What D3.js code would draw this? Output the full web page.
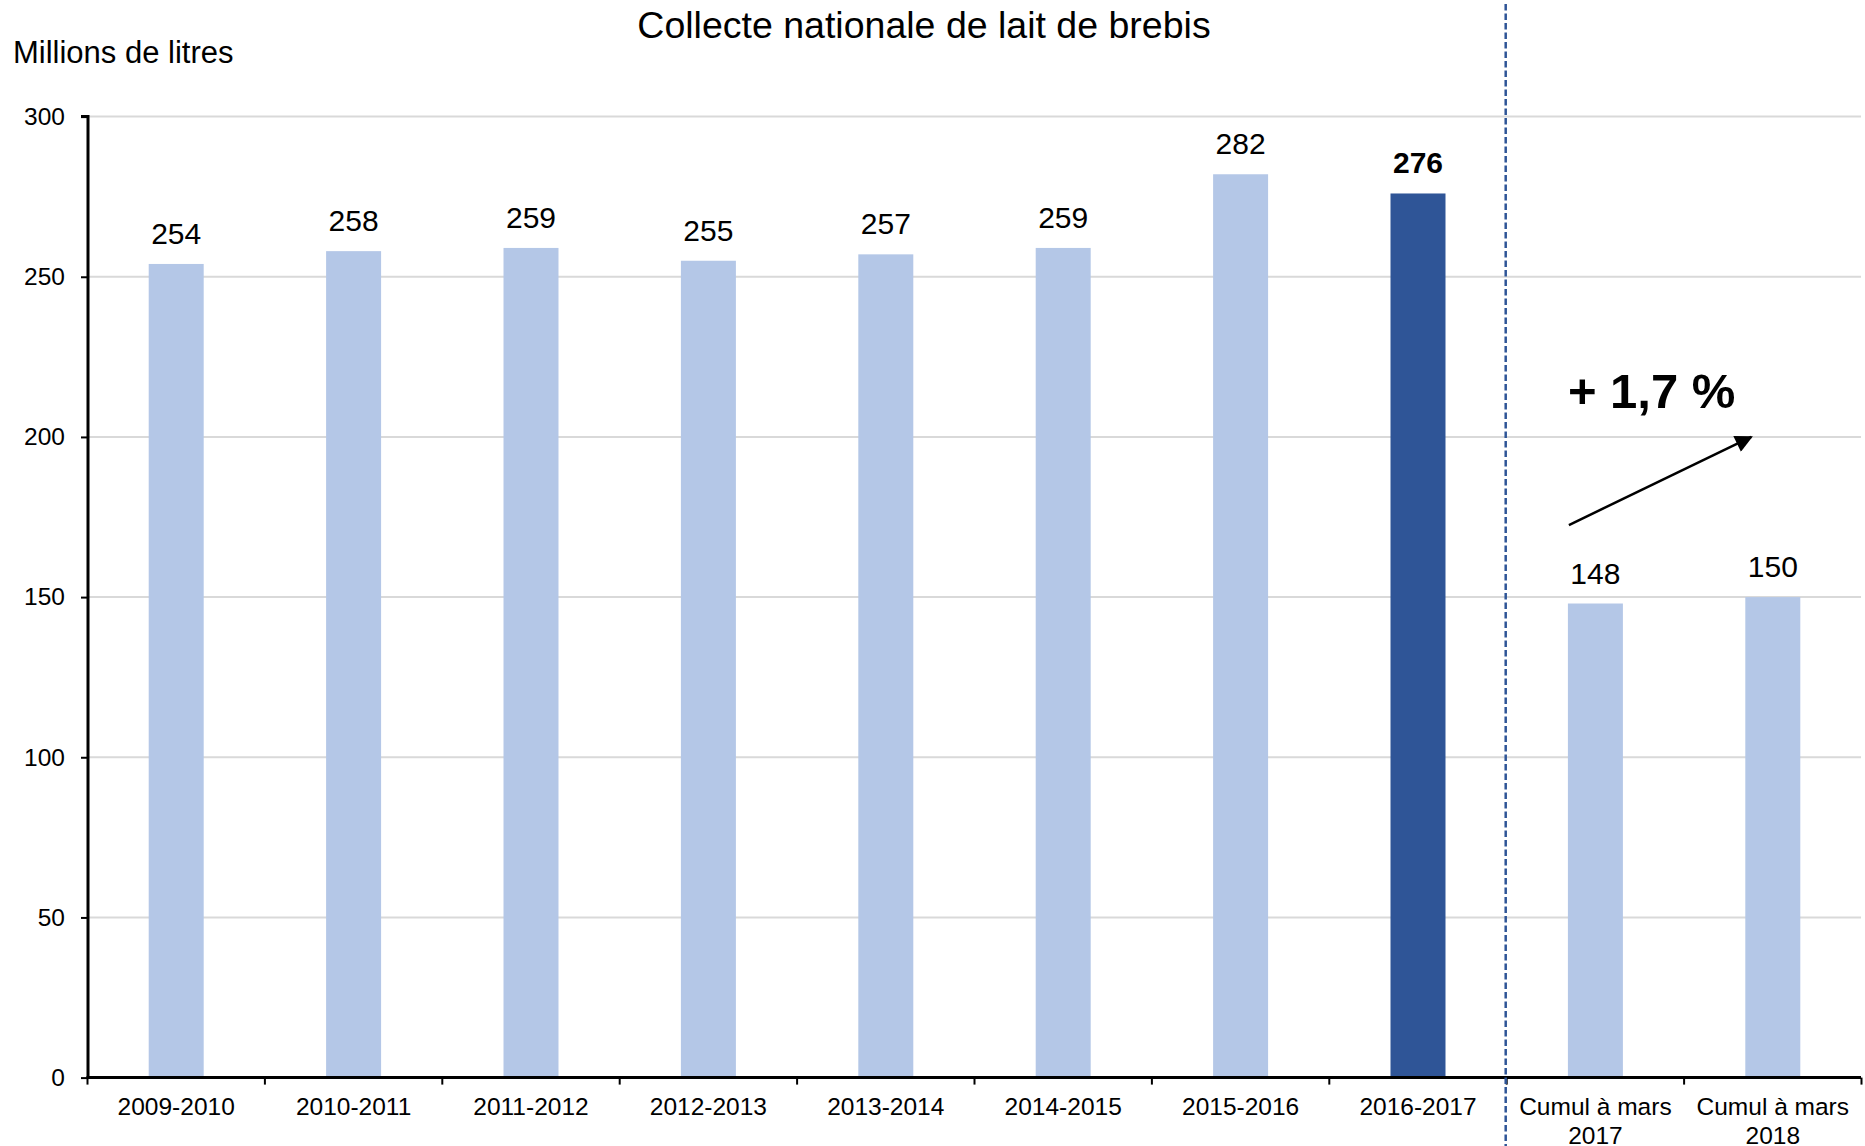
<!DOCTYPE html>
<html>
<head>
<meta charset="utf-8">
<script src="https://cdn.jsdelivr.net/npm/d3@7/dist/d3.min.js"></script>
<style>
  html, body { margin: 0; padding: 0; background: #fff; }
  svg { display: block; font-family: "Liberation Sans", Arial, sans-serif; }
</style>
</head>
<body>
<svg id="chart" width="1865" height="1146"></svg>
<script>
// ---- data ----
const categories = ["2009-2010", "2010-2011", "2011-2012", "2012-2013", "2013-2014",
                    "2014-2015", "2015-2016", "2016-2017", "Cumul à mars 2017", "Cumul à mars 2018"];
const categoryLines = [["2009-2010"], ["2010-2011"], ["2011-2012"], ["2012-2013"], ["2013-2014"],
                       ["2014-2015"], ["2015-2016"], ["2016-2017"], ["Cumul à mars", "2017"], ["Cumul à mars", "2018"]];
const values = [254, 258, 259, 255, 257, 259, 282, 276, 148, 150];
const highlighted = [false, false, false, false, false, false, false, true, false, false];
const yTicks = [0, 50, 100, 150, 200, 250, 300];
const title = "Collecte nationale de lait de brebis";
const yTitle = "Millions de litres";
const changeLabel = "+ 1,7 %";
// arrow annotation in data units (value axis)
const arrowFrom = 172.5, arrowTo = 200;

// ---- layout ----
const W = 1865, H = 1146;
const mLeft = 88, mRight = 1861, mTop = 116.6, mBottom = 1077.6;
const svg = d3.select("#chart");

const x = d3.scaleBand().domain(categories).range([mLeft - 0.5, mRight + 0.5])
  .paddingInner(0.69).paddingOuter(0.345);
const y = d3.scaleLinear().domain([0, 300]).range([mBottom, mTop]);

// gridlines
svg.append("g").selectAll("line").data(yTicks.filter(d => d > 0)).join("line")
  .attr("x1", mLeft).attr("x2", mRight)
  .attr("y1", d => y(d)).attr("y2", d => y(d))
  .attr("stroke", "#d9d9d9").attr("stroke-width", 2);

// bars
svg.append("g").selectAll("rect").data(values).join("rect")
  .attr("x", (d, i) => x(categories[i]))
  .attr("width", x.bandwidth())
  .attr("y", d => y(d))
  .attr("height", d => y(0) - y(d))
  .attr("fill", (d, i) => highlighted[i] ? "#2F5597" : "#B4C7E7");

// value labels
svg.append("g").selectAll("text").data(values).join("text")
  .attr("x", (d, i) => x(categories[i]) + x.bandwidth() / 2)
  .attr("y", d => y(d) - 20)
  .attr("text-anchor", "middle")
  .attr("font-size", 30)
  .attr("font-weight", (d, i) => highlighted[i] ? "bold" : "normal")
  .attr("fill", "#000")
  .text(d => d);

// y axis
const yAxis = d3.axisLeft(y).tickValues(yTicks).tickSize(7).tickPadding(16);
const gy = svg.append("g").attr("transform", `translate(${mLeft},0)`).call(yAxis);
gy.select(".domain").attr("stroke", "#000").attr("stroke-width", 3).attr("d", `M-7,${mTop}H0V${mBottom}`);
gy.selectAll(".tick line").attr("stroke", "#000").attr("stroke-width", 2);
gy.selectAll(".tick text").attr("font-size", 24.5).attr("fill", "#000")
  .attr("font-family", "Liberation Sans, Arial, sans-serif");

// x axis line and boundary ticks
const step = x.step();
const boundaries = d3.range(categories.length + 1).map(i => (mLeft - 0.5) + i * step);
svg.append("line").attr("x1", mLeft - 1.5).attr("x2", mRight).attr("y1", mBottom).attr("y2", mBottom)
  .attr("stroke", "#000").attr("stroke-width", 3);
svg.append("g").selectAll("line").data(boundaries).join("line")
  .attr("x1", d => d).attr("x2", d => d)
  .attr("y1", mBottom).attr("y2", mBottom + 7)
  .attr("stroke", "#000").attr("stroke-width", 2);

// x labels
const xl = svg.append("g").selectAll("text").data(categories).join("text")
  .attr("x", d => x(d) + x.bandwidth() / 2)
  .attr("y", 1115)
  .attr("text-anchor", "middle")
  .attr("font-size", 24.5)
  .attr("fill", "#000");
xl.each(function(d, i) {
  const t = d3.select(this);
  categoryLines[i].forEach((line, j) => {
    t.append("tspan").attr("x", x(d) + x.bandwidth() / 2).attr("dy", j === 0 ? 0 : 28.5).text(line);
  });
});

// dashed separator between annual and cumulative
const sepX = boundaries[8] - 1;
svg.append("line").attr("x1", sepX).attr("x2", sepX).attr("y1", 4).attr("y2", H)
  .attr("stroke", "#2F5597").attr("stroke-width", 2.5).attr("stroke-dasharray", "6.5,3");

// title & axis title
svg.append("text").attr("x", 924).attr("y", 38).attr("text-anchor", "middle")
  .attr("font-size", 37.5).attr("fill", "#000").text(title);
svg.append("text").attr("x", 13).attr("y", 63)
  .attr("font-size", 31).attr("fill", "#000").text(yTitle);

// change annotation
svg.append("defs").append("marker")
  .attr("id", "arrowhead").attr("viewBox", "0 0 10 10")
  .attr("refX", 9).attr("refY", 5)
  .attr("markerWidth", 8).attr("markerHeight", 7)
  .attr("markerUnits", "strokeWidth")
  .attr("orient", "auto")
  .append("path").attr("d", "M0,0L10,5L0,10Z").attr("fill", "#000");
svg.append("line")
  .attr("x1", x(categories[8]) + 1).attr("y1", y(arrowFrom))
  .attr("x2", x(categories[9]) + 6).attr("y2", y(arrowTo))
  .attr("stroke", "#000").attr("stroke-width", 2.5)
  .attr("marker-end", "url(#arrowhead)");
svg.append("text").attr("x", x(categories[8])).attr("y", 408)
  .attr("font-size", 49).attr("font-weight", "bold").attr("fill", "#000").text(changeLabel);
</script>
</body>
</html>
